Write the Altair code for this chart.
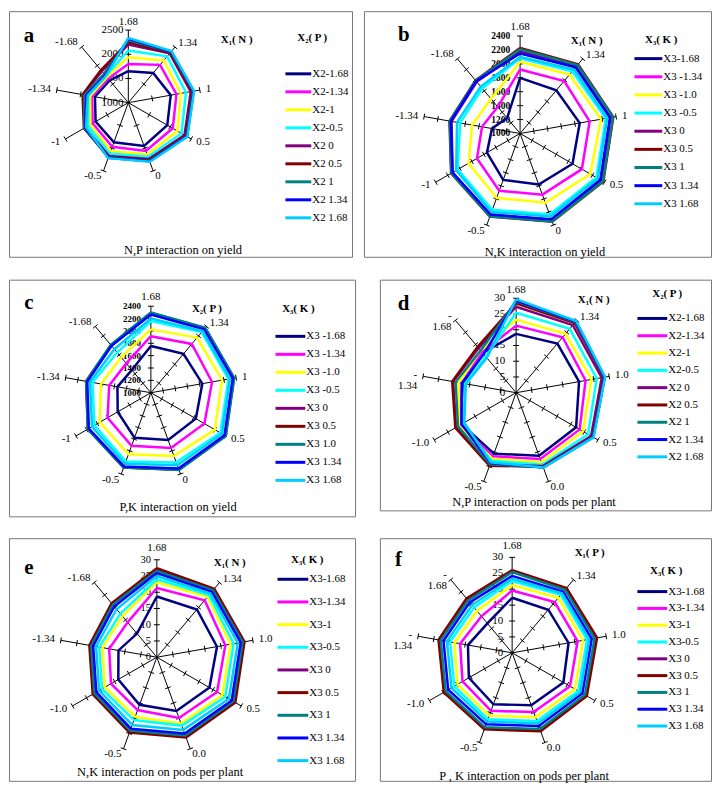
import altair as alt
import pandas as pd

SERIF = "Liberation Serif"
SERIES = ["s1", "s2", "s3", "s4", "s5", "s6", "s7", "s8", "s9"]
COLORS = ["#000080", "#FF00FF", "#FFFF00", "#00FFFF", "#800080",
          "#800000", "#008080", "#0000FF", "#00CCFF"]

# spoke order (clockwise from top): 1.68, 1.34, 1, 0.5, 0, -0.5, -1, -1.34, -1.68
SPOKES_A = ["1.68", "1.34", "1", "0.5", "0", "-0.5", "-1", "-1.34", "-1.68"]
SPOKES_D = ["1.68", "1.34", "1.0", "0.5", "0.0", "-0.5", "-1.0", "-\n1.34", "-\n1.68"]
SPOKES_E = ["1.68", "1.34", "1.0", "0.5", "0.0", "-0.5", "-1.0", "-1.34", "-1.68"]

LEG_A = ["X2-1.68", "X2-1.34", "X2-1", "X2-0.5", "X2 0", "X2 0.5", "X2 1", "X2 1.34", "X2 1.68"]
LEG_B = ["X3-1.68", "X3 -1.34", "X3 -1.0", "X3 -0.5", "X3 0", "X3 0.5", "X3 1", "X3 1.34", "X3 1.68"]
LEG_C = ["X3 -1.68", "X3 -1.34", "X3 -1.0", "X3 -0.5", "X3 0", "X3 0.5", "X3 1.0", "X3 1.34", "X3 1.68"]
LEG_E = ["X3-1.68", "X3-1.34", "X3-1", "X3-0.5", "X3 0", "X3 0.5", "X3 1", "X3 1.34", "X3 1.68"]

# a: N,P interaction on yield
YIELD_NP = [
    [1650, 1800, 1890, 1930, 1950, 1870, 1780, 1700, 1600],
    [1800, 2020, 2010, 2060, 2060, 1970, 1850, 1760, 1650],
    [1940, 2140, 2100, 2170, 2140, 2060, 1910, 1800, 1690],
    [2080, 2250, 2210, 2270, 2190, 2120, 1960, 1840, 1720],
    [2200, 2330, 2310, 2340, 2240, 2170, 2030, 1950, 1850],
    [2250, 2350, 2340, 2370, 2260, 2190, 2060, 1960, 1880],
    [2290, 2370, 2360, 2390, 2280, 2200, 2050, 1920, 1780],
    [2320, 2380, 2370, 2400, 2290, 2210, 2030, 1880, 1740],
    [2340, 2390, 2380, 2410, 2300, 2220, 2010, 1850, 1720],
]
# b: N,K interaction on yield
YIELD_NK = [
    [1800, 1810, 1870, 1870, 1780, 1710, 1550, 1410, 1290],
    [1920, 1985, 2015, 2025, 1935, 1875, 1715, 1555, 1500],
    [2030, 2105, 2180, 2165, 2060, 1985, 1855, 1700, 1650],
    [2080, 2165, 2250, 2265, 2240, 2165, 2035, 1875, 1845],
    [2180, 2260, 2320, 2350, 2320, 2240, 2120, 2000, 1970],
    [2230, 2295, 2360, 2380, 2350, 2270, 2145, 2030, 1995],
    [2210, 2285, 2355, 2375, 2345, 2265, 2140, 2025, 1990],
    [2150, 2240, 2310, 2330, 2310, 2240, 2120, 2010, 1980],
    [2100, 2200, 2270, 2290, 2270, 2200, 2060, 1920, 1880],
]
# c: P,K interaction on yield
YIELD_PK = [
    [1755, 1820, 1845, 1840, 1815, 1775, 1620, 1550, 1480],
    [1915, 2030, 2005, 2000, 1950, 1915, 1810, 1685, 1620],
    [2025, 2165, 2170, 2195, 2090, 2060, 1955, 1820, 1750],
    [2160, 2280, 2275, 2300, 2200, 2185, 2055, 1960, 1850],
    [2280, 2360, 2360, 2390, 2320, 2285, 2170, 2060, 2000],
    [2290, 2365, 2365, 2395, 2325, 2290, 2175, 2065, 2005],
    [2300, 2370, 2370, 2400, 2330, 2290, 2180, 2065, 2010],
    [2265, 2340, 2345, 2375, 2305, 2270, 2160, 2045, 1990],
    [2200, 2300, 2300, 2330, 2250, 2225, 2100, 2000, 1920],
]
# d: N,P interaction on pods per plant
PODS_NP = [
    [18.7, 20.4, 20.3, 22.0, 21.3, 20.6, 20.0, 17.0, 16.5],
    [21.3, 23.0, 22.4, 23.3, 22.4, 21.5, 20.5, 17.5, 16.8],
    [23.2, 24.4, 24.3, 24.5, 23.5, 22.3, 21.0, 18.5, 17.5],
    [25.4, 26.5, 26.0, 26.4, 24.3, 23.0, 19.5, 16.5, 15.0],
    [27.3, 28.0, 27.6, 27.5, 24.8, 24.3, 22.0, 20.3, 18.5],
    [28.4, 28.9, 28.3, 28.0, 25.0, 24.7, 22.3, 20.6, 19.0],
    [29.0, 29.3, 28.5, 28.2, 25.2, 24.2, 21.3, 19.5, 17.5],
    [29.3, 29.5, 28.6, 28.3, 25.3, 23.8, 20.0, 17.5, 16.0],
    [29.7, 29.7, 28.7, 28.4, 25.3, 23.5, 19.0, 16.2, 14.5],
]
# e: N,K interaction on pods per plant
PODS_NK = [
    [18.7, 19.2, 18.8, 18.7, 17.6, 15.6, 13.7, 12.0, 9.5],
    [21.3, 22.9, 21.4, 21.4, 19.9, 17.3, 16.3, 14.9, 14.0],
    [23.1, 24.3, 23.0, 23.3, 21.7, 19.5, 18.5, 17.0, 16.5],
    [24.0, 25.0, 24.0, 24.3, 22.4, 20.6, 19.5, 18.0, 17.5],
    [27.0, 27.2, 27.1, 27.6, 26.0, 24.4, 22.5, 20.8, 21.4],
    [27.4, 27.5, 27.4, 27.9, 26.3, 24.7, 22.8, 21.1, 21.7],
    [26.6, 26.9, 26.8, 27.2, 25.6, 24.0, 22.2, 20.5, 21.1],
    [25.9, 26.3, 26.2, 26.6, 25.0, 23.4, 21.5, 19.9, 20.4],
    [25.0, 25.6, 25.3, 25.6, 23.8, 22.2, 20.5, 19.0, 19.3],
]
# f: P,K interaction on pods per plant
PODS_PK = [
    [17.3, 17.7, 18.0, 18.6, 17.5, 17.2, 15.7, 14.1, 12.1],
    [19.6, 20.8, 20.9, 21.0, 19.8, 19.4, 18.0, 16.6, 15.0],
    [21.3, 22.6, 22.6, 22.8, 21.5, 21.0, 19.8, 18.4, 17.2],
    [22.6, 23.8, 23.9, 24.0, 22.8, 22.2, 21.0, 19.8, 18.6],
    [25.7, 26.3, 26.8, 26.8, 25.9, 25.3, 24.5, 23.2, 22.0],
    [26.0, 26.6, 27.1, 27.1, 26.2, 25.6, 24.8, 23.5, 22.3],
    [25.4, 25.9, 26.3, 26.4, 25.5, 24.9, 24.1, 22.8, 21.5],
    [24.2, 25.0, 25.4, 25.5, 24.5, 23.9, 23.2, 21.9, 20.7],
    [23.3, 24.4, 24.6, 24.7, 23.6, 23.0, 22.0, 20.8, 19.6],
]

YIELD_TICKS_A = [1000, 1500, 2000, 2500]
YIELD_TICKS_B = [1000, 1200, 1400, 1600, 1800, 2000, 2200, 2400]
PODS_TICKS = [0, 5, 10, 15, 20, 25, 30]

SPOKE_ALIGN = ["center", "left", "left", "left", "left", "right", "right", "right", "right"]
SPOKE_GAP = [8, 5, 6, 6, 6, 6, 6, 6, 6]

color_scale = alt.Scale(domain=SERIES, range=COLORS)

PANELS = [
    dict(letter="a", values=YIELD_NP, W=345, H=247, cx=120, cy=92, R=73, ticks=YIELD_TICKS_A,
         vl_off=5, vl_size=11, vl_weight="normal", spokes=SPOKES_A, top_gap=8,
         axis_title="X₁( N )", at=(229, 29), legend_title="X₂( P )", lt=(305, 27),
         legend=LEG_A, lx=(278, 304), ly0=63, ldy=18.1,
         caption="N,P interaction on yield", cap=(175, 240), lp=(20, 25)),
    dict(letter="b", values=YIELD_NK, W=349, H=247, cx=157, cy=123, R=98, ticks=YIELD_TICKS_B,
         vl_off=10, vl_size=9.5, vl_weight="bold", spokes=SPOKES_A, top_gap=9,
         axis_title="X₁( N )", at=(224, 30), legend_title="X₃( K )", lt=(299, 29),
         legend=LEG_B, lx=(272, 300), ly0=47.7, ldy=18.25,
         caption="N,K interaction on yield", cap=(182, 242), lp=(40, 24)),
    dict(letter="c", values=YIELD_PK, W=348, H=238, cx=142.7, cy=113.7, R=87, ticks=YIELD_TICKS_B,
         vl_off=10, vl_size=9, vl_weight="bold", spokes=SPOKES_A, top_gap=9,
         axis_title="X₂( P )", at=(199, 30), legend_title="X₃( K )", lt=(291, 30),
         legend=LEG_C, lx=(268, 298), ly0=57, ldy=18.1,
         caption="P,K interaction on yield", cap=(170, 228.7), lp=(20, 23.7)),
    dict(letter="d", values=PODS_NP, W=333, H=232, cx=137, cy=113.7, R=95, ticks=PODS_TICKS,
         vl_off=11, vl_size=11, vl_weight="normal", spokes=SPOKES_D, top_gap=8,
         axis_title="X₁( N )", at=(215, 20.7), legend_title="X₂( P )", lt=(289, 14.7),
         legend=LEG_A, lx=(259, 289), ly0=39, ldy=17.4,
         caption="N,P interaction on pods per plant", cap=(155, 223.7), lp=(23.7, 24.7)),
    dict(letter="e", values=PODS_NK, W=348, H=244, cx=148.7, cy=119.7, R=98, ticks=PODS_TICKS,
         vl_off=6, vl_size=10.5, vl_weight="normal", spokes=SPOKES_E, top_gap=12,
         axis_title="X₁( N )", at=(222, 24.7), legend_title="X₃( K )", lt=(300, 22),
         legend=LEG_E, lx=(270, 301), ly0=41.3, ldy=22.8,
         caption="N,K interaction on pods per plant", cap=(152, 235.3), lp=(20, 29.7)),
    dict(letter="f", values=PODS_PK, W=333, H=244, cx=133, cy=115.3, R=96, ticks=PODS_TICKS,
         vl_off=9, vl_size=11, vl_weight="normal", spokes=SPOKES_D, top_gap=11,
         axis_title="X₁( P )", at=(211, 15), legend_title="X₃( K )", lt=(288, 32.7),
         legend=LEG_E, lx=(259, 289), ly0=53.7, ldy=16.9,
         caption="P , K interaction on pods per plant", cap=(145, 238.7), lp=(18.7, 22)),
]


def text_layer(txt, pos, xs, ys, **kw):
    df = pd.DataFrame({"px": [pos[0]], "py": [pos[1]], "txt": [txt]})
    return alt.Chart(df).mark_text(font=SERIF, **kw).encode(
        x=alt.X("px:Q", scale=xs, axis=None),
        y=alt.Y("py:Q", scale=ys, axis=None),
        text="txt:N",
    )


def make_panel(p):
    W, H = p["W"], p["H"]
    cx, cy, R = p["cx"], p["cy"], p["R"]
    ticks = p["ticks"]
    vmin, vmax = ticks[0], ticks[-1]
    span = vmax - vmin
    xs = alt.Scale(domain=[0, W], nice=False, zero=False)
    ys = alt.Scale(domain=[0, H], nice=False, zero=False, reverse=True)

    def X(f):
        return alt.X(f"{f}:Q", scale=xs, axis=None)

    def Y(f):
        return alt.Y(f"{f}:Q", scale=ys, axis=None)

    ang = "datum.k * 2 * PI / 9"

    gaps = [p["top_gap"]] + SPOKE_GAP[1:]
    spoke_df = pd.DataFrame({"k": list(range(9)), "label": p["spokes"],
                             "gap": gaps, "al": SPOKE_ALIGN})
    spokes = alt.Chart(spoke_df).transform_calculate(
        a=ang, x0=f"{cx}", y0=f"{cy}",
        ex=f"{cx} + {R} * sin(datum.a)", ey=f"{cy} - {R} * cos(datum.a)",
    ).mark_rule(color="black", strokeWidth=1).encode(
        x=X("x0"), y=Y("y0"), x2=alt.X2("ex"), y2=alt.Y2("ey"))

    tick_rows = [{"k": k, "t": t} for k in range(9) for t in ticks[1:]]
    h = 3
    tick_marks = alt.Chart(pd.DataFrame(tick_rows)).transform_calculate(
        a=ang, r=f"(datum.t - {vmin}) / {span} * {R}",
        bx=f"{cx} + datum.r * sin(datum.a)", by=f"{cy} - datum.r * cos(datum.a)",
        tx1=f"datum.bx - {h} * cos(datum.a)", ty1=f"datum.by - {h} * sin(datum.a)",
        tx2=f"datum.bx + {h} * cos(datum.a)", ty2=f"datum.by + {h} * sin(datum.a)",
    ).mark_rule(color="black", strokeWidth=1).encode(
        x=X("tx1"), y=Y("ty1"), x2=alt.X2("tx2"), y2=alt.Y2("ty2"))

    vlabels = alt.Chart(pd.DataFrame({"t": ticks})).transform_calculate(
        px=f"{cx - p['vl_off']}", py=f"{cy} - (datum.t - {vmin}) / {span} * {R}",
        txt="'' + datum.t",
    ).mark_text(font=SERIF, align="right", baseline="middle", fontSize=p["vl_size"],
                fontWeight=p["vl_weight"], color="black").encode(
        x=X("px"), y=Y("py"), text="txt:N")

    slabels = []
    for al in ["center", "left", "right"]:
        slabels.append(alt.Chart(spoke_df).transform_filter(
            alt.FieldEqualPredicate(field="al", equal=al)
        ).transform_calculate(
            a=ang,
            px=f"{cx} + ({R} + datum.gap) * sin(datum.a)",
            py=f"{cy} - ({R} + datum.gap) * cos(datum.a)",
        ).mark_text(font=SERIF, align=al, baseline="middle", fontSize=11, lineBreak="\n",
                    lineHeight=11, color="black").encode(
            x=X("px"), y=Y("py"), text="label:N"))

    rows = []
    for i, vals in enumerate(p["values"]):
        for k in range(10):
            rows.append({"series": SERIES[i], "k": k, "value": vals[k % 9]})
    lines = alt.Chart(pd.DataFrame(rows)).transform_calculate(
        a=ang, r=f"(datum.value - {vmin}) / {span} * {R}",
        px=f"{cx} + datum.r * sin(datum.a)", py=f"{cy} - datum.r * cos(datum.a)",
    ).mark_line(strokeWidth=2.5, strokeJoin="miter").encode(
        x=X("px"), y=Y("py"),
        color=alt.Color("series:N", scale=color_scale, legend=None),
        order="k:Q")

    leg_df = pd.DataFrame({"i": list(range(9)), "series": SERIES, "label": p["legend"]})
    lx0, lx1 = p["lx"]
    leg_lines = alt.Chart(leg_df).transform_calculate(
        ly=f"{p['ly0']} + datum.i * {p['ldy']}", lx0=f"{lx0}", lx1=f"{lx1}",
    ).mark_rule(strokeWidth=3).encode(
        x=X("lx0"), x2=alt.X2("lx1"), y=Y("ly"),
        color=alt.Color("series:N", scale=color_scale, legend=None))
    leg_text = alt.Chart(leg_df).transform_calculate(
        ly=f"{p['ly0']} + datum.i * {p['ldy']}", tx=f"{lx1 + 1}",
    ).mark_text(font=SERIF, align="left", baseline="middle", fontSize=11, color="black").encode(
        x=X("tx"), y=Y("ly"), text="label:N")

    t_axis = text_layer(p["axis_title"], p["at"], xs, ys, fontSize=11, fontWeight="bold",
                        align="center", baseline="middle", color="black")
    t_leg = text_layer(p["legend_title"], p["lt"], xs, ys, fontSize=11, fontWeight="bold",
                       align="center", baseline="middle", color="black")
    t_cap = text_layer(p["caption"], p["cap"], xs, ys, fontSize=12.5,
                       align="center", baseline="middle", color="black")
    t_let = text_layer(p["letter"], p["lp"], xs, ys, fontSize=21, fontWeight="bold",
                       align="center", baseline="middle", color="black")

    return alt.layer(spokes, tick_marks, vlabels, *slabels, lines, leg_lines, leg_text,
                     t_axis, t_leg, t_cap, t_let).properties(width=W, height=H)


panels = [make_panel(p) for p in PANELS]
row1 = alt.hconcat(panels[0], panels[1], spacing=10)
row2 = alt.hconcat(panels[2], panels[3], spacing=23)
row3 = alt.hconcat(panels[4], panels[5], spacing=23)
chart = alt.vconcat(row1, row2, row3, spacing=20).properties(
    padding=0, background="white"
).configure_view(stroke="#777777", strokeWidth=1)

chart.save("out.html", embed_options={"renderer": "svg", "actions": False})
